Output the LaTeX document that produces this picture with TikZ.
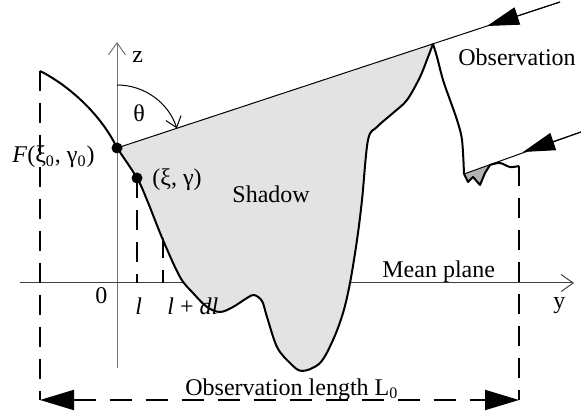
\documentclass[tikz,border=0pt]{standalone}
\usepackage{fontspec}
\setmainfont{Liberation Serif}
\usetikzlibrary{arrows.meta}

\begin{document}
\begin{tikzpicture}[
        x=0.5pt, y=-0.5pt,
        lbl/.style={anchor=base west, inner sep=0pt, font=\fontsize{12}{14}\selectfont},
        axis/.style={line width=0.5pt, -{Straight Barb[length=6pt, width=8.5pt]}},
        surface/.style={line width=1pt, line join=round},
        sight/.style={line width=0.5pt},
        guide/.style={line width=1pt, dash pattern=on 10pt off 6pt},
        dot/.style={circle, fill=black, inner sep=0pt, minimum size=5.5pt},
        head/.style={-{Triangle[length=16pt, width=9pt]}, line width=0.5pt},
        span/.style={guide, dash pattern=on 11pt off 7pt, {Triangle[length=17pt, width=10pt]}-{Triangle[length=17pt, width=10pt]}}
    ]
        \useasboundingbox (0,0) rectangle (581,415);

        % POINTS
        \coordinate (F) at (117,148);
        \coordinate (P) at (137,178);
        \coordinate (peak) at (433,44);
        \coordinate (far1) at (560,2);
        \coordinate (tip1) at (487,26);
        \coordinate (graze) at (464,174);
        \coordinate (far2) at (581,132);
        \coordinate (tip2) at (523,152);
        \coordinate (start) at (40,71);
        \coordinate (stop) at (519,166);

        % AXES
        \draw[axis, black!55] (117,368) -- (117,42);
        \draw[axis, black!75] (20,283) -- (574,283);

        % SHADOW
        \fill[black!11] plot[smooth, tension=0.55] coordinates {(117,148) (137,178) (147,200) (163,240) (180,277) (193,293) (207,307) (220,312) (233,307) (247,298) (254,295) (262,301) (267,317) (277,347) (290,363) (302,371) (320,363) (333,340) (343,313) (350,283) (357,240) (362,200) (368,140) (377,127) (393,113) (407,100) (420,77) (428,57) (433,44)} -- cycle;
        \fill[black!30] (graze) -- (468,182) -- (473,177) -- (480,185) -- (485,173) -- (490,165) -- cycle;

        % SURFACE
        \draw[surface] (start) .. controls (70,86) and (102,116) .. (F);
        \draw[surface] plot[smooth, tension=0.55] coordinates {(117,148) (137,178) (147,200) (163,240) (180,277) (193,293) (207,307) (220,312) (233,307) (247,298) (254,295) (262,301) (267,317) (277,347) (290,363) (302,371) (320,363) (333,340) (343,313) (350,283) (357,240) (362,200) (368,140) (377,127) (393,113) (407,100) (420,77) (428,57) (433,44)};
        \draw[surface] plot[smooth, tension=0.55] coordinates {(433,44) (437,57) (443,80) (450,100) (457,120) (462,140) (464,174)};
        \draw[surface] (graze) -- (468,182) -- (473,177) -- (480,185) -- (485,173) -- (490,165);
        \draw[surface] plot[smooth, tension=0.55] coordinates {(490,165) (500,163) (510,167) (519,166)};

        % OBSERVATION RAYS
        \draw[sight] (F) -- (far1);
        \draw[head] (far1) -- (tip1);
        \draw[sight] (graze) -- (far2);
        \draw[head] (far2) -- (tip2);
        \draw[sight, -{Straight Barb[length=5pt, width=8pt]}] (F) ++(-90:63) arc[start angle=-90, end angle=-18.2, radius=63];

        % GUIDES
        \draw[guide] (start) -- (40,400);
        \draw[guide] (stop) -- (519,400);
        \draw[guide] (P) -- (137,283);
        \draw[guide] (163,238) -- (163,283);
        \draw[span] (40,400) -- (519,400);

        \node[dot] (Fdot) at (F) {};
        \node[dot] (Pdot) at (P) {};

        % LABELS
        \node[lbl] (zlbl) at (132,63) {z};
        \node[lbl] (theta) at (133,122) {θ};
        \node[lbl] (Flbl) at (12,163) {\textit{F}(ξ\textsubscript{0}, γ\textsubscript{0})};
        \node[lbl] (Plbl) at (152,186) {(ξ, γ)};
        \node[lbl] (shadow) at (232,203) {Shadow};
        \node[lbl] (obs) at (458,66) {Observation};
        \node[lbl] (mean) at (382,278) {Mean plane};
        \node[lbl] (zero) at (95,304) {0};
        \node[lbl] (llbl) at (135,315) {\textit{l}};
        \node[lbl] (dllbl) at (167,315) {\textit{l} + \textit{dl}};
        \node[lbl] (ylbl) at (553,309) {y};
        \node[lbl] (length) at (185,395) {Observation length L\textsubscript{0}};
    \end{tikzpicture}
\end{document}
